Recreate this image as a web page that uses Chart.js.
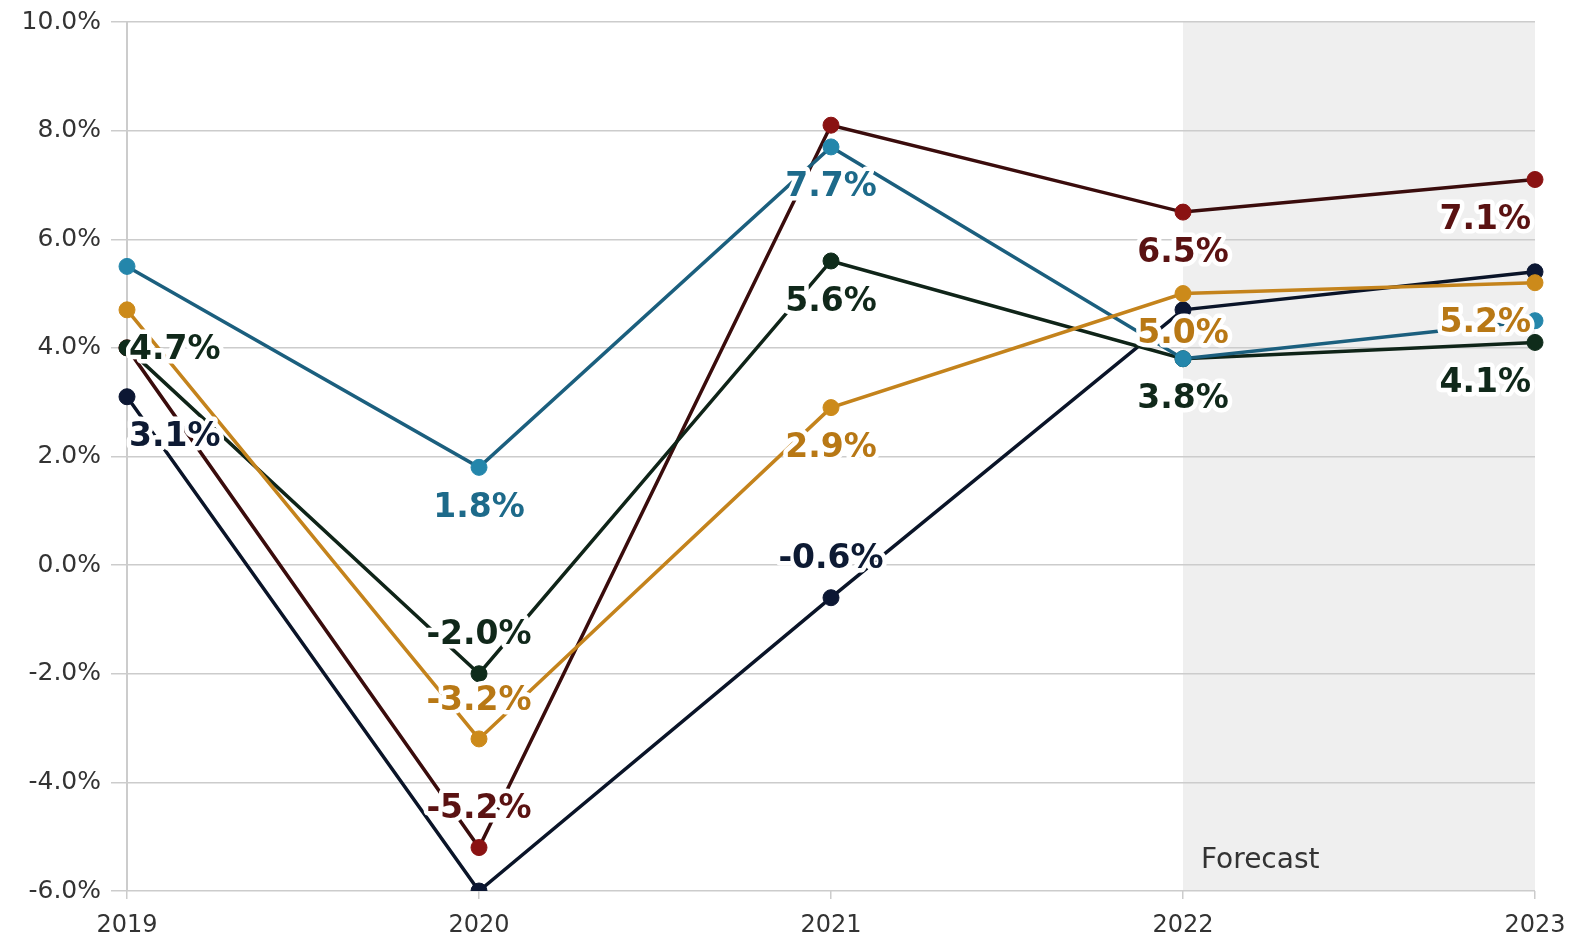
<!DOCTYPE html>
<html>
<head>
<meta charset="utf-8">
<script src="https://cdn.jsdelivr.net/npm/chart.js@4/dist/chart.umd.min.js"></script>
<style>
  html, body { margin: 0; padding: 0; background: #ffffff; }
  #wrap { width: 1569px; height: 950px; }
</style>
</head>
<body>
<div id="wrap"><canvas id="c" width="1569" height="950"></canvas></div>
<script>
// ---- data ----
const years = ['2019', '2020', '2021', '2022', '2023'];
const yTicks = [-6, -4, -2, 0, 2, 4, 6, 8, 10];
const forecastStart = '2022';
const forecastLabel = 'Forecast';

const blueValues   = [5.5, 1.8, 7.7, 3.8, 4.5];
const redValues    = [4.0, -5.2, 8.1, 6.5, 7.1];
const greenValues  = [4.0, -2.0, 5.6, 3.8, 4.1];
const orangeValues = [4.7, -3.2, 2.9, 5.0, 5.2];
const navyValues   = [3.1, -6.0, -0.6, 4.7, 5.4];

// which points carry a value label (1 = shown)
const blueShown   = [0, 1, 1, 0, 0];
const redShown    = [0, 1, 0, 1, 1];
const greenShown  = [0, 1, 1, 1, 1];
const orangeShown = [1, 1, 1, 1, 1];
const navyShown   = [1, 0, 1, 0, 0];

// ---- styles ----
const series = [
  { values: orangeValues, shown: orangeShown, line: '#c4831c', point: '#cc8a1a', text: '#b87815', textOverride: ['#10281a', null, null, null, null] },
  { values: blueValues,   shown: blueShown,   line: '#1b5f7e', point: '#2486ab', text: '#1d6a8a' },
  { values: greenValues,  shown: greenShown,  line: '#0f2418', point: '#0f2c1b', text: '#10281a' },
  { values: redValues,    shown: redShown,    line: '#3a0c0c', point: '#8a1212', text: '#5a1212' },
  { values: navyValues,   shown: navyShown,   line: '#0a1428', point: '#0c1733', text: '#0d1a33' }
];

const fmt = v => v.toFixed(1) + '%';

const shadePlugin = {
  id: 'shade',
  beforeDraw(chart) {
    const { ctx, chartArea, scales } = chart;
    const x0 = scales.x.getPixelForValue(years.indexOf(forecastStart));
    ctx.save();
    ctx.fillStyle = '#efefef';
    ctx.fillRect(x0, chartArea.top, chartArea.right - x0, chartArea.bottom - chartArea.top);
    ctx.restore();
  },
  afterDatasetsDraw(chart) {
    const { ctx, scales } = chart;
    const x0 = scales.x.getPixelForValue(years.indexOf(forecastStart));
    ctx.save();
    ctx.font = '28px "DejaVu Sans"';
    ctx.fillStyle = '#333333';
    ctx.textAlign = 'left';
    ctx.textBaseline = 'middle';
    ctx.fillText(forecastLabel, x0 + 18, chart.chartArea.bottom - 30);
    ctx.restore();
  }
};

const labelPlugin = {
  id: 'valueLabels',
  afterDatasetsDraw(chart) {
    const { ctx, chartArea } = chart;
    ctx.save();
    ctx.font = 'bold 33px "DejaVu Sans"';
    ctx.textBaseline = 'middle';
    ctx.lineJoin = 'round';
    chart.data.datasets.forEach((ds, di) => {
      const s = series[di];
      const meta = chart.getDatasetMeta(di);
      meta.data.forEach((pt, i) => {
        if (!s.shown[i]) return;
        const v = s.values[i];
        const y = v >= 0 ? pt.y + 41 : pt.y - 38;
        const txt = fmt(v);
        const w = ctx.measureText(txt).width;
        let x = pt.x - w / 2;
        if (x < chartArea.left + 2) x = chartArea.left + 2;
        if (x + w > chartArea.right - 4) x = chartArea.right - 4 - w;
        ctx.textAlign = 'left';
        ctx.strokeStyle = '#ffffff';
        ctx.lineWidth = 9;
        ctx.strokeText(txt, x, y);
        ctx.fillStyle = (s.textOverride && s.textOverride[i]) || s.text;
        ctx.fillText(txt, x, y);
      });
    });
    ctx.restore();
  }
};

new Chart(document.getElementById('c'), {
  type: 'line',
  data: {
    labels: years,
    datasets: series.map(s => ({
      data: s.values,
      borderColor: s.line,
      backgroundColor: s.point,
      pointBackgroundColor: s.point,
      pointBorderColor: s.point,
      pointRadius: 8,
      pointBorderWidth: 1,
      borderWidth: 3.5,
      tension: 0,
      fill: false
    }))
  },
  options: {
    responsive: false,
    animation: false,
    devicePixelRatio: 1,
    layout: { padding: { top: 22, right: 34, left: 0, bottom: 0 } },
    plugins: { legend: { display: false }, tooltip: { enabled: false } },
    scales: {
      x: {
        type: 'category',
        offset: false,
        grid: { drawOnChartArea: false, drawTicks: true, tickLength: 8, color: '#cccccc', lineWidth: 1.5 },
        border: { display: false },
        ticks: { font: { family: 'DejaVu Sans', size: 24 }, color: '#333333', padding: 12, maxRotation: 0 },
        afterFit(scale) { scale.height = 59; scale.paddingLeft = 0; scale.paddingRight = 0; }
      },
      y: {
        min: -6, max: 10,
        afterBuildTicks(scale) { scale.ticks = yTicks.map(v => ({ value: v })); },
        grid: { color: '#cccccc', lineWidth: 1.5, tickLength: 16, drawTicks: true },
        border: { display: true, color: '#cccccc', width: 2 },
        ticks: { font: { family: 'DejaVu Sans', size: 25 }, color: '#333333', padding: 10, callback: v => fmt(v) },
        afterFit(scale) { scale.width = 127; scale.paddingTop = 0; scale.paddingBottom = 0; }
      }
    }
  },
  plugins: [shadePlugin, labelPlugin]
});
</script>
</body>
</html>
